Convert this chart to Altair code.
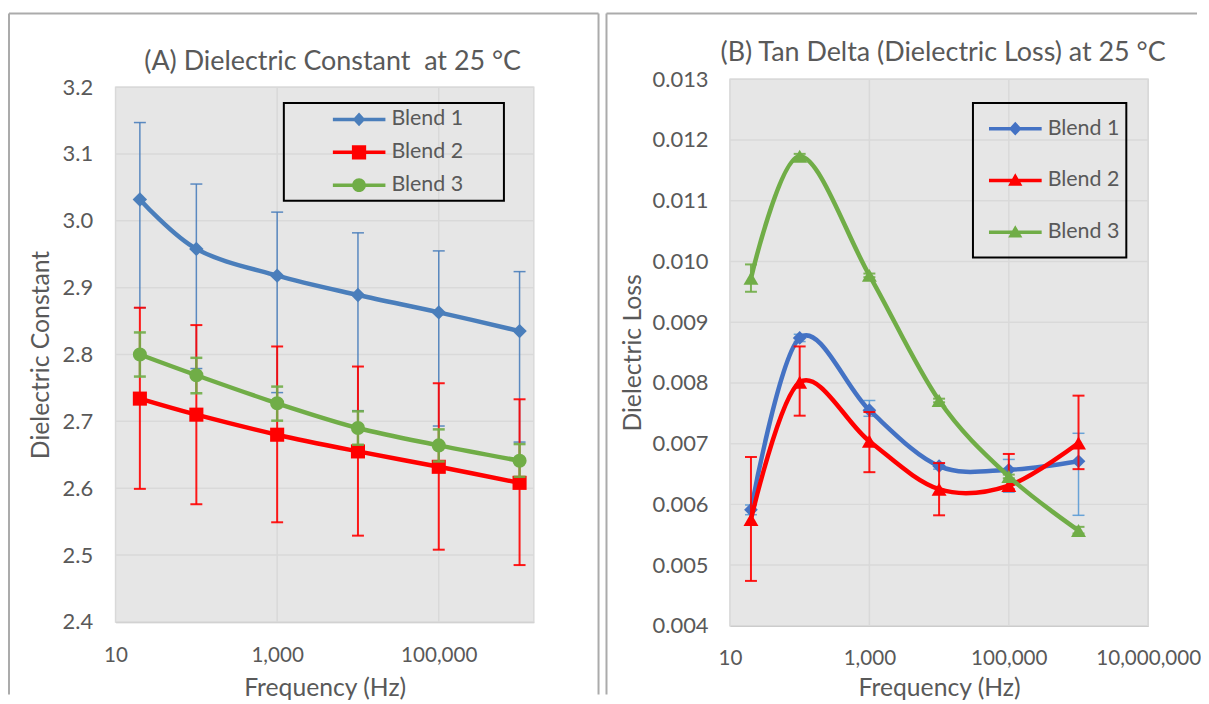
import altair as alt
import pandas as pd

FONT = "Lato"
TEXT = "#595959"
BG = "#E6E6E6"
GRID = "#D9D9D9"
AXIS = "#BFBFBF"
BORDER = "#ABABAB"

freq = [20, 100, 1000, 10000, 100000, 1000000]
blends = ["Blend 1", "Blend 2", "Blend 3"]

# ---- Panel A: dielectric constant ----
dc_val = [
    [3.032, 2.958, 2.918, 2.889, 2.863, 2.835],
    [2.734, 2.710, 2.680, 2.655, 2.632, 2.608],
    [2.800, 2.769, 2.727, 2.690, 2.664, 2.641],
]
dc_hi = [
    [3.147, 3.055, 3.013, 2.982, 2.955, 2.924],
    [2.870, 2.844, 2.812, 2.782, 2.757, 2.733],
    [2.833, 2.795, 2.752, 2.715, 2.688, 2.666],
]
dc_lo = [
    [2.870, 2.779, 2.743, 2.716, 2.693, 2.669],
    [2.599, 2.576, 2.549, 2.529, 2.508, 2.485],
    [2.767, 2.742, 2.701, 2.665, 2.640, 2.617],
]
dc_xdom = [10, 1500000]
dc_ydom = [2.4, 3.2]
dc_yticks = [2.4, 2.5, 2.6, 2.7, 2.8, 2.9, 3.0, 3.1, 3.2]
dc_xticks = [10, 1000, 100000]
dc_xgrid = [1000, 100000]

# ---- Panel B: tan delta ----
td_val = [
    [0.00591, 0.00874, 0.00755, 0.00663, 0.00657, 0.00671],
    [0.00575, 0.00801, 0.00704, 0.00625, 0.00631, 0.00701],
    [0.00972, 0.01173, 0.00977, 0.00771, 0.00646, 0.00557],
]
td_hi = [
    [0.00599, 0.00880, 0.00771, 0.00668, 0.00674, 0.00717],
    [0.00678, 0.00860, 0.00752, 0.00668, 0.00683, 0.00779],
    [0.00995, 0.01177, 0.00980, 0.00774, 0.00649, 0.00563],
]
td_lo = [
    [0.00583, 0.00868, 0.00745, 0.00658, 0.00620, 0.00582],
    [0.00474, 0.00746, 0.00653, 0.00582, 0.00625, 0.00658],
    [0.00950, 0.01169, 0.00974, 0.00768, 0.00643, 0.00552],
]
td_xdom = [10, 10000000]
td_ydom = [0.004, 0.013]
td_yticks = [0.004, 0.005, 0.006, 0.007, 0.008, 0.009, 0.010, 0.011, 0.012, 0.013]
td_xticks = [10, 1000, 100000, 10000000]
td_xgrid = [1000, 100000, 10000000]

# legend symbols: line + marker (unit box -1..1)
LINE = "M-1,-0.065H1V0.065H-1Z"
DIAMOND = "M0,-0.26L0.24,0L0,0.26L-0.24,0Z"
SQUARE = "M-0.27,-0.27H0.27V0.27H-0.27Z"
CIRCLE = "M-0.26,0A0.26,0.26,0,1,1,0.26,0A0.26,0.26,0,1,1,-0.26,0Z"
TRIANGLE = "M0,-0.27L0.27,0.2H-0.27Z"


def long_df(vals, los, his):
    rows = []
    for b, v, lo, hi in zip(blends, vals, los, his):
        for f, a, l, h in zip(freq, v, lo, hi):
            rows.append({"freq": f, "blend": b, "val": a, "lo": l, "hi": h})
    return pd.DataFrame(rows)


one = pd.DataFrame({"k": [0]})


def panel(df, cfg):
    xs = alt.Scale(type="log", domain=cfg["xdom"], nice=False)
    ykw = dict(domain=cfg["ydom"], nice=False, zero=False)
    if "yrange" in cfg:
        ykw["range"] = cfg["yrange"]
    ys = alt.Scale(**ykw)
    xa = alt.Axis(values=cfg["xticks"], format=",d", title="Frequency (Hz)",
                  labelFontSize=20.7,
                  labelPadding=cfg["xlabpad"], titlePadding=cfg["xtitlepad"])
    ya = alt.Axis(values=cfg["yticks"], format=cfg["yfmt"], title=cfg["ytitle"],
                  labelFontSize=22,
                  labelPadding=cfg["ylabpad"], titlePadding=cfg["ytitlepad"])

    def X(f):
        return alt.X(f, type="quantitative", scale=xs, axis=xa)

    def Y(f):
        return alt.Y(f, type="quantitative", scale=ys, axis=ya)

    xd, yd = cfg["xdom"], cfg["ydom"]
    bg = pd.DataFrame({"x0": [xd[0]], "x1": [xd[1]], "y0": [yd[0]], "y1": [yd[1]]})
    hg = pd.DataFrame({"g": cfg["yticks"][1:], "x0": xd[0], "x1": xd[1]})
    vg = pd.DataFrame({"g": cfg["xgrid"], "y0": yd[0], "y1": yd[1]})

    layers = [
        alt.Chart(bg).mark_rect(fill=BG, stroke=GRID, strokeWidth=1.5).encode(
            x=X("x0"), x2="x1", y=Y("y0"), y2="y1"),
        alt.Chart(hg).mark_rule(color=GRID, strokeWidth=1.5).encode(
            y=Y("g"), x=X("x0"), x2="x1"),
        alt.Chart(vg).mark_rule(color=GRID, strokeWidth=1.5).encode(
            x=X("g"), y=Y("y0"), y2="y1"),
    ]
    for i, b in enumerate(blends):
        sub = alt.Chart(df).transform_filter(alt.datum.blend == b)
        ec, ew, c = cfg["ecol"][i], cfg["ew"][i], cfg["col"][i]
        layers += [
            sub.mark_rule(color=ec, strokeWidth=ew, opacity=0.9).encode(
                x=X("freq"), y=Y("lo"), y2="hi"),
            sub.mark_tick(orient="horizontal", color=ec, size=12, thickness=ew, opacity=0.9).encode(
                x=X("freq"), y=Y("lo")),
            sub.mark_tick(orient="horizontal", color=ec, size=12, thickness=ew, opacity=0.9).encode(
                x=X("freq"), y=Y("hi")),
            sub.mark_line(color=c, strokeWidth=4.5, interpolate="cardinal").encode(
                x=X("freq"), y=Y("val")),
            sub.mark_point(shape=cfg["shape"][i], filled=True, size=cfg["size"][i],
                           color=c, opacity=1).encode(x=X("freq"), y=Y("val")),
        ]
    leg = alt.Legend(orient="none", legendX=cfg["legx"], legendY=cfg["legy"], title=None,
                     symbolSize=2809, symbolStrokeWidth=0, symbolOpacity=1,
                     labelFont=FONT, labelFontSize=21.5, labelColor=TEXT, labelOffset=6,
                     clipHeight=cfg["legrow"], rowPadding=0, padding=0, direction="vertical")
    layers.append(
        alt.Chart(df).mark_point(filled=True, opacity=0).encode(
            x=X("freq"), y=Y("val"),
            color=alt.Color("blend:N", scale=alt.Scale(domain=blends, range=cfg["col"]), legend=leg),
            shape=alt.Shape("blend:N", scale=alt.Scale(domain=blends, range=cfg["legpath"]), legend=leg),
        ))
    fx0, fx1, fy0, fy1 = cfg["frame"]
    layers.append(
        alt.Chart(one).mark_rect(fillOpacity=0, stroke="black", strokeWidth=2).encode(
            x=alt.value(fx0), x2=alt.value(fx1), y=alt.value(fy0), y2=alt.value(fy1)))
    tx, ty = cfg["titlepos"]
    layers.append(
        alt.Chart(one).mark_text(text=cfg["title"], font=FONT, fontSize=27, color=TEXT,
                                 align="center", baseline="middle").encode(
            x=alt.value(tx), y=alt.value(ty)))
    for r in cfg["vrules"]:
        layers.append(alt.Chart(one).mark_rule(color=BORDER, strokeWidth=2).encode(
            x=alt.value(r[0]), y=alt.value(r[1]), y2=alt.value(r[2])))
    for r in cfg["hrules"]:
        layers.append(alt.Chart(one).mark_rule(color=BORDER, strokeWidth=2).encode(
            x=alt.value(r[0]), x2=alt.value(r[1]), y=alt.value(r[2])))
    return alt.layer(*layers).properties(width=420, height=cfg["height"])


left = panel(long_df(dc_val, dc_lo, dc_hi), dict(
    xdom=dc_xdom, ydom=dc_ydom, yrange=[545, 8], height=545,
    xticks=dc_xticks, yticks=dc_yticks, xgrid=dc_xgrid, yfmt=".1f",
    ytitle="Dielectric Constant", xlabpad=24, ylabpad=23, ytitlepad=9, xtitlepad=10,
    col=["#4A7EBB", "#FF0000", "#70AD47"], ecol=["#4A7EBB", "#FF0000", "#70AD47"],
    ew=[1.5, 2, 2.5], shape=["diamond", "square", "circle"], size=[210, 200, 200],
    legpath=[LINE + DIAMOND, LINE + SQUARE, LINE + CIRCLE],
    legx=218, legy=24.3, legrow=32.3, frame=(169, 390, 24, 122),
    title="(A) Dielectric Constant \u00a0at 25 °C", titlepos=(218, -17),
    vrules=[(-107, -66, 618), (485, -66, 618)], hrules=[(-107, 485, -66)],
))

right = panel(long_df(td_val, td_lo, td_hi), dict(
    xdom=td_xdom, ydom=td_ydom, height=549,
    xticks=td_xticks, yticks=td_yticks, xgrid=td_xgrid, yfmt=".3f",
    ytitle="Dielectric Loss", xlabpad=23, ylabpad=22, ytitlepad=7, xtitlepad=7,
    col=["#4472C4", "#FF0000", "#70AD47"], ecol=["#5B9BD5", "#FF0000", "#70AD47"],
    ew=[1.5, 2, 2], shape=["diamond", "triangle-up", "triangle-up"], size=[190, 225, 225],
    legpath=[LINE + DIAMOND, LINE + TRIANGLE, LINE + TRIANGLE],
    legx=260, legy=24, legrow=51.5, frame=(244, 398, 24, 179),
    title="(B) Tan Delta (Dielectric Loss) at 25 °C", titlepos=(214, -26),
    vrules=[(-124, -66, 618)], hrules=[(-124, 469, -66)],
))

chart = alt.hconcat(left, right, spacing=6).resolve_scale(
    color="independent", shape="independent"
).resolve_legend(
    color="independent", shape="independent"
).properties(
    padding={"left": 0, "top": 3, "right": 0, "bottom": 0}
).configure(font=FONT).configure_view(stroke=None).configure_axis(
    labelFont=FONT, labelColor=TEXT,
    titleFont=FONT, titleFontSize=24.8, titleColor=TEXT, titleFontWeight="normal",
    ticks=False, grid=False, domainColor=AXIS, domainWidth=1.5,
    labelFlush=False, labelOverlap=False, zindex=1,
)

chart.save("out.html", embed_options={"renderer": "svg", "actions": False})
